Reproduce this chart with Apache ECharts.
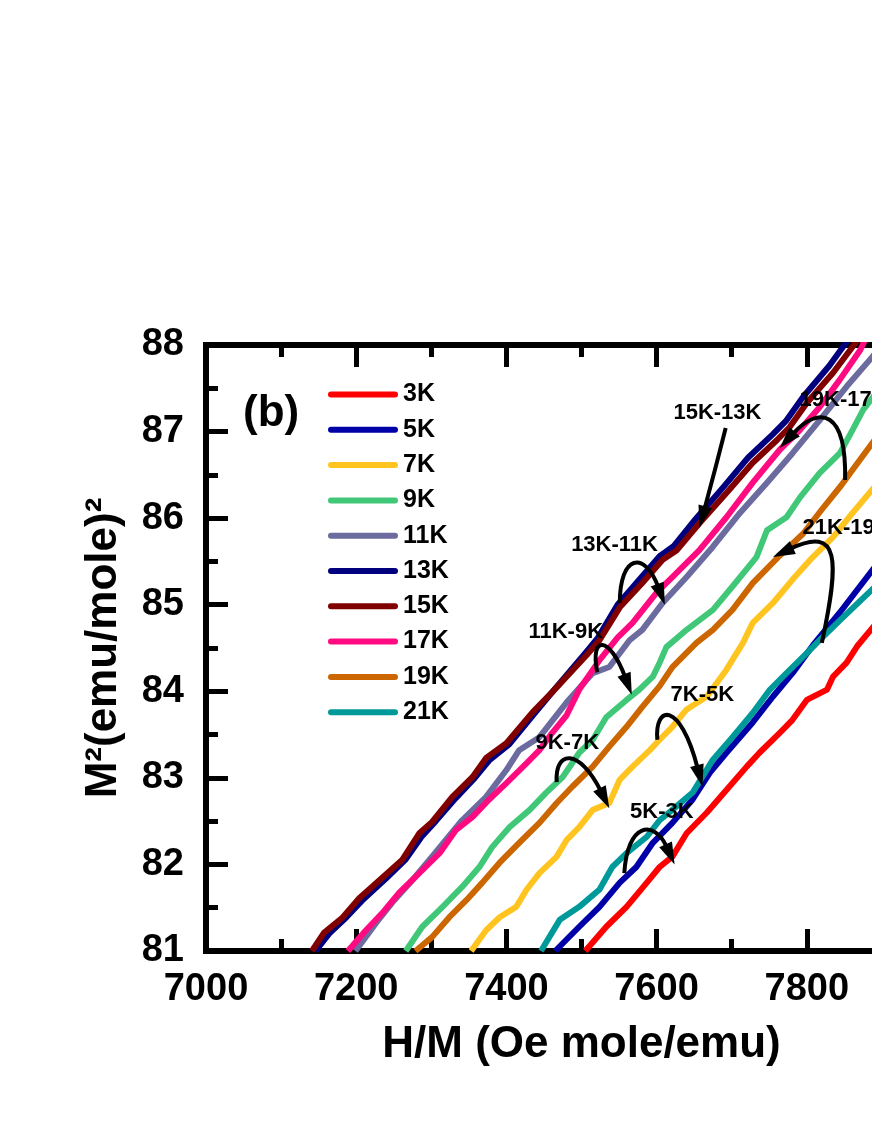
<!DOCTYPE html>
<html>
<head>
<meta charset="utf-8">
<script src="https://cdn.jsdelivr.net/npm/echarts@6/dist/echarts.min.js"></script>
<style>
html, body { margin: 0; padding: 0; background: #fff; }
#chart { width: 872px; height: 1128px; }
</style>
</head>
<body>
<div id="chart"></div>
<script>
// temperatures and colours, legend order
var temps = ['3K', '5K', '7K', '9K', '11K', '13K', '15K', '17K', '19K', '21K'];
var colors = ['#ff0000', '#0000a8', '#ffc41f', '#40c878', '#6b6b9f',
              '#00007f', '#800000', '#ff0a80', '#cc6600', '#009999'];

// [H/M, M^2]
var t3K = [[7505,81.0],[7533,81.28],[7560,81.51],[7587,81.79],[7604,81.97],[7621,82.09],[7640,82.36],
  [7667,82.60],[7693,82.86],[7720,83.13],[7737,83.29],[7764,83.52],[7781,83.67],[7800,83.90],
  [7827,84.02],[7835,84.17],[7853,84.33],[7867,84.52],[7890,84.76]];
var t5K = [[7465,81.0],[7497,81.28],[7524,81.51],[7551,81.79],[7573,81.97],[7595,82.25],[7621,82.48],
  [7648,82.75],[7671,83.06],[7693,83.29],[7728,83.64],[7755,83.94],[7781,84.21],[7808,84.53],
  [7844,84.91],[7890,85.43]];
var t7K = [[7353,81.0],[7373,81.24],[7391,81.39],[7413,81.51],[7427,81.71],[7444,81.90],[7467,82.09],
  [7480,82.28],[7497,82.43],[7515,82.63],[7537,82.71],[7551,82.98],[7568,83.13],[7591,83.32],
  [7604,83.44],[7621,83.59],[7640,83.79],[7667,83.94],[7693,84.25],[7715,84.56],[7728,84.79],
  [7755,85.02],[7781,85.29],[7808,85.55],[7835,85.78],[7861,86.06],[7890,86.36]];
var t9K = [[7266,81.0],[7288,81.28],[7315,81.51],[7341,81.74],[7364,81.97],[7381,82.20],[7404,82.43],
  [7431,82.63],[7453,82.83],[7475,83.01],[7497,83.29],[7515,83.44],[7533,83.70],[7560,83.90],
  [7577,84.02],[7595,84.17],[7604,84.33],[7613,84.51],[7640,84.71],[7675,84.94],[7701,85.21],
  [7733,85.55],[7747,85.86],[7773,86.01],[7791,86.24],[7817,86.52],[7844,86.75],[7861,87.02],
  [7875,87.25],[7890,87.42]];
var t11K = [[7199,81.0],[7227,81.33],[7248,81.56],[7275,81.82],[7301,82.09],[7341,82.51],[7373,82.78],
  [7400,83.09],[7417,83.32],[7444,83.47],[7480,83.87],[7515,84.21],[7537,84.28],[7564,84.59],
  [7581,84.71],[7608,85.02],[7640,85.32],[7675,85.67],[7711,86.06],[7747,86.41],[7781,86.75],
  [7817,87.13],[7853,87.52],[7887,87.86],[7900,88.0]];
var t13K = [[7146,81.0],[7164,81.20],[7187,81.39],[7210,81.60],[7240,81.84],[7266,82.06],[7288,82.33],
  [7306,82.50],[7332,82.76],[7358,83.00],[7377,83.20],[7404,83.39],[7437,83.74],[7462,84.00],
  [7505,84.44],[7522,84.62],[7548,85.00],[7578,85.30],[7604,85.56],[7623,85.68],[7652,85.99],
  [7688,86.35],[7722,86.70],[7755,86.97],[7772,87.12],[7795,87.40],[7830,87.76],[7855,88.06]];
var t15K = [[7141,81.0],[7157,81.21],[7181,81.38],[7204,81.61],[7235,81.85],[7261,82.05],[7284,82.36],
  [7301,82.49],[7328,82.78],[7355,83.01],[7373,83.23],[7400,83.40],[7435,83.76],[7461,83.99],
  [7507,84.42],[7524,84.59],[7551,84.97],[7581,85.25],[7608,85.52],[7627,85.63],[7657,85.94],
  [7693,86.29],[7728,86.64],[7760,86.90],[7777,87.05],[7800,87.33],[7835,87.68],[7861,87.98],
  [7875,88.15]];
var t17K = [[7189,81.0],[7213,81.24],[7235,81.44],[7257,81.67],[7284,81.90],[7311,82.13],[7333,82.40],
  [7355,82.55],[7377,82.75],[7400,82.94],[7427,83.17],[7444,83.32],[7461,83.52],[7480,83.72],
  [7497,84.02],[7524,84.36],[7548,84.62],[7568,84.79],[7600,85.14],[7621,85.32],[7657,85.63],
  [7693,86.01],[7728,86.41],[7764,86.79],[7791,87.02],[7817,87.28],[7844,87.60],[7871,87.94],
  [7880,88.1]];
var t19K = [[7279,81.0],[7301,81.16],[7324,81.39],[7347,81.59],[7368,81.79],[7391,82.02],[7417,82.25],
  [7444,82.48],[7467,82.71],[7488,82.90],[7515,83.13],[7537,83.36],[7560,83.59],[7581,83.82],
  [7604,84.06],[7621,84.28],[7653,84.56],[7675,84.71],[7701,84.94],[7728,85.25],[7762,85.55],
  [7795,85.82],[7820,86.10],[7846,86.38],[7861,86.56],[7890,86.9]];
var t21K = [[7446,81.0],[7471,81.36],[7497,81.51],[7524,81.71],[7541,81.97],[7560,82.13],[7587,82.32],
  [7604,82.51],[7621,82.63],[7648,82.83],[7675,83.21],[7701,83.47],[7728,83.75],[7751,84.02],
  [7773,84.21],[7800,84.44],[7817,84.59],[7844,84.82],[7890,85.2]];
var curves = [t3K, t5K, t7K, t9K, t11K, t13K, t15K, t17K, t19K, t21K];

// annotation labels and curved arrows, in data units: [start, ctrl1, ctrl2, tip]
var notes = [
  { text: '15K-13K', at: [7681, 87.21], arrow: [[7692, 87.04], [7685, 86.80], [7670, 86.30], [7657, 85.89]] },
  { text: '19K-17K', at: [7849, 87.36], arrow: [[7851, 86.44], [7853, 87.25], [7817, 87.31], [7764, 86.81]] },
  { text: '13K-11K', at: [7544, 85.69], arrow: [[7551, 85.02], [7551, 85.58], [7584, 85.63], [7611, 85.00]] },
  { text: '11K-9K',  at: [7479, 84.69], arrow: [[7521, 84.22], [7511, 84.65], [7537, 84.65], [7567, 83.96]] },
  { text: '21K-19K', at: [7853, 85.89], arrow: [[7820, 84.56], [7844, 85.52], [7844, 85.92], [7755, 85.55]] },
  { text: '7K-5K',   at: [7661, 83.96], arrow: [[7601, 83.44], [7597, 83.84], [7631, 83.90], [7661, 82.90]] },
  { text: '9K-7K',   at: [7481, 83.40], arrow: [[7467, 82.95], [7464, 83.32], [7497, 83.35], [7537, 82.65]] },
  { text: '5K-3K',   at: [7607, 82.61], arrow: [[7557, 81.90], [7561, 82.49], [7597, 82.52], [7624, 82.00]] }
];

var font = 'Liberation Sans, Arial, sans-serif';
var chart = echarts.init(document.getElementById('chart'), null, { renderer: 'canvas' });

var frame = { show: true, lineStyle: { color: '#000', width: 6, cap: 'square' } };
var tick = { show: true, inside: true, length: 22, lineStyle: { color: '#000', width: 5 } };
var minor = { show: true, splitNumber: 2, length: 12, lineStyle: { color: '#000', width: 5 } };
var plain = function (v) { return String(v); };

var option = {
  backgroundColor: '#fff',
  animation: false,
  grid: { left: 206, top: 345, right: -85, bottom: 177, containLabel: false, outerBoundsMode: 'none' },
  legend: {
    orient: 'vertical',
    left: 323,
    top: 377,
    itemWidth: 70,
    itemHeight: 6,
    itemGap: 10.3,
    icon: 'path://M3,0L67,0A3,3,0,0,1,67,6L3,6A3,3,0,0,1,3,0Z',
    itemStyle: { borderWidth: 0 },
    textStyle: { fontFamily: font, fontSize: 25, fontWeight: 'bold', color: '#000', lineHeight: 25 },
    data: temps
  },
  xAxis: [{
    type: 'value', min: 7000, max: 8000, interval: 200,
    name: 'H/M (Oe mole/emu)', nameLocation: 'middle', nameGap: 72,
    nameTextStyle: { fontFamily: font, fontSize: 44, fontWeight: 'bold', color: '#000' },
    axisLine: frame, axisTick: tick, minorTick: minor,
    splitLine: { show: false },
    axisLabel: { fontFamily: font, fontSize: 38, fontWeight: 'bold', color: '#000', margin: 20, formatter: plain }
  }, {
    type: 'value', position: 'top', min: 7000, max: 8000, interval: 200,
    axisLine: frame, axisTick: tick, minorTick: minor,
    splitLine: { show: false }, axisLabel: { show: false }
  }],
  yAxis: [{
    type: 'value', min: 81, max: 88, interval: 1,
    name: 'M\u00b2(emu/mole)\u00b2', nameLocation: 'middle', nameGap: 80,
    nameTextStyle: { fontFamily: font, fontSize: 44, fontWeight: 'bold', color: '#000' },
    axisLine: frame, axisTick: tick, minorTick: minor,
    splitLine: { show: false },
    axisLabel: { fontFamily: font, fontSize: 38, fontWeight: 'bold', color: '#000', margin: 22, formatter: plain }
  }, {
    type: 'value', position: 'right', min: 81, max: 88, interval: 1,
    axisLine: frame, axisTick: tick, minorTick: minor,
    splitLine: { show: false }, axisLabel: { show: false }
  }],
  series: temps.map(function (t, i) {
    return {
      name: t,
      type: 'line',
      data: curves[i],
      symbol: 'none',
      clip: true,
      color: colors[i],
      lineStyle: { width: 6, color: colors[i], join: 'round' }
    };
  })
};

chart.setOption(option);

// annotations: labels + arrows drawn in pixel space from data coords
function px(p) { return chart.convertToPixel({ seriesIndex: 0 }, p); }

var g = [{
  type: 'text', z: 100,
  style: { text: '(b)', x: 243, y: 414, font: 'bold 44px ' + font, fill: '#000', verticalAlign: 'middle' }
}];
notes.forEach(function (n) {
  var c = px(n.at);
  g.push({
    type: 'text', z: 100,
    style: { text: n.text, x: c[0], y: c[1], font: 'bold 22px ' + font, fill: '#000',
             align: 'center', verticalAlign: 'middle' }
  });
  var a = n.arrow.map(px);
  var tip = a[3], c2 = a[2];
  var dx = tip[0] - c2[0], dy = tip[1] - c2[1];
  var len = Math.sqrt(dx * dx + dy * dy);
  dx /= len; dy /= len;
  var L = 22, W = 7;
  var bx = tip[0] - dx * L, by = tip[1] - dy * L;
  g.push({
    type: 'bezierCurve', z: 100,
    shape: { x1: a[0][0], y1: a[0][1], cpx1: a[1][0], cpy1: a[1][1],
             cpx2: a[2][0], cpy2: a[2][1], x2: bx + dx * 3, y2: by + dy * 3 },
    style: { stroke: '#000', lineWidth: 4, fill: null }
  });
  g.push({
    type: 'polygon', z: 101,
    shape: { points: [tip, [bx - dy * W, by + dx * W], [bx + dy * W, by - dx * W]] },
    style: { fill: '#000' }
  });
});
chart.setOption({ graphic: g });
</script>
</body>
</html>
